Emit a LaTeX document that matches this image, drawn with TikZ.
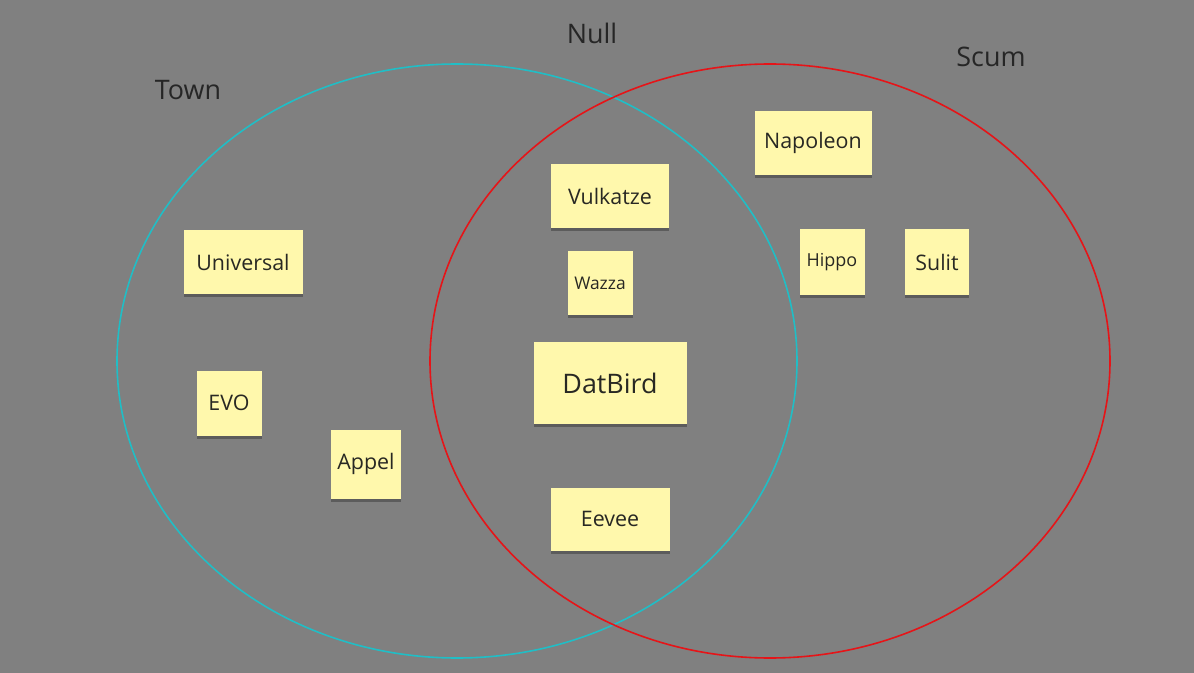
\documentclass[tikz,border=0pt]{standalone}
\usepackage{fontspec}
\setmainfont{Open Sans}
\usetikzlibrary{shadows}
\definecolor{bg}{RGB}{128,128,128}
\definecolor{townc}{RGB}{32,190,198}
\definecolor{scumc}{RGB}{230,20,24}
\definecolor{sticky}{RGB}{255,248,172}
\definecolor{inkc}{RGB}{40,40,35}
\begin{document}
\begin{tikzpicture}[x=1bp,y=-1bp,
  note/.style={fill=sticky, inner sep=0pt, text=inkc,
    drop shadow={shadow xshift=0bp, shadow yshift=-3bp, opacity=0.28, fill=black}},
  setlabel/.style={text=black!85, font=\fontsize{27}{31}\selectfont, inner sep=0pt},
  venn/.style={line width=1.6bp}]
\fill[bg] (0,0) rectangle (1194,673);
\useasboundingbox (0,0) rectangle (1194,673);
% circles
\draw[venn, townc] (457,361) ellipse [x radius=340, y radius=297];
\draw[venn, scumc] (770,361) ellipse [x radius=340, y radius=297];
% set labels
\node[setlabel] (town) at (188,90) {Town};
\node[setlabel] (null) at (592,33) {Null};
\node[setlabel] (scum) at (991,57) {Scum};
% sticky notes
\node[note, minimum width=117bp, minimum height=64bp, font=\fontsize{21.5}{25}\selectfont] (napoleon) at (813,143) {Napoleon};
\node[note, minimum width=118bp, minimum height=64bp, font=\fontsize{21.5}{25}\selectfont] (vulkatze) at (610,196) {Vulkatze};
\node[note, minimum width=119bp, minimum height=63bp, font=\fontsize{21.5}{25}\selectfont] (universal) at (243,262) {Universal};
\node[note, minimum width=65bp, minimum height=64bp, font=\fontsize{17.5}{21}\selectfont] (wazza) at (600,283) {Wazza};
\node[note, minimum width=65bp, minimum height=65bp, font=\fontsize{18}{21}\selectfont] (hippo) at (832,262) {Hippo};
\node[note, minimum width=64bp, minimum height=65bp, font=\fontsize{21.5}{25}\selectfont] (sulit) at (937,262) {Sulit};
\node[note, minimum width=153bp, minimum height=82bp, font=\fontsize{27}{31}\selectfont] (datbird) at (610,383) {DatBird};
\node[note, minimum width=65bp, minimum height=65bp, font=\fontsize{21.5}{25}\selectfont] (evo) at (229,403) {EVO};
\node[note, minimum width=70bp, minimum height=69bp, font=\fontsize{21.5}{25}\selectfont] (appel) at (366,464) {Appel};
\node[note, minimum width=119bp, minimum height=63bp, font=\fontsize{21.5}{25}\selectfont] (eevee) at (610,519) {Eevee};
\end{tikzpicture}
\end{document}
